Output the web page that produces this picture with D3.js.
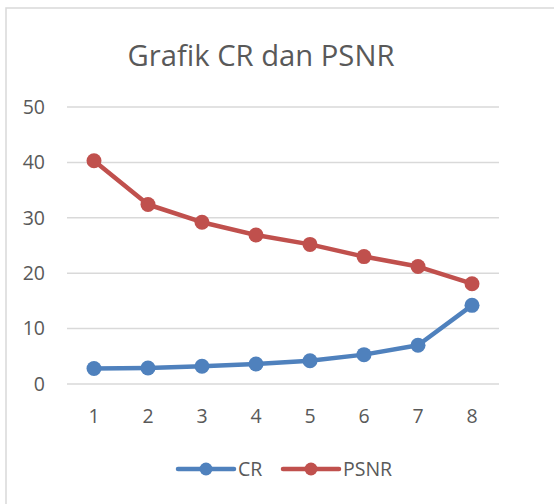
<!DOCTYPE html>
<html>
<head>
<meta charset="utf-8">
<script src="https://cdn.jsdelivr.net/npm/d3@7"></script>
<style>
  body { margin: 0; background: #fff; }
  svg { display: block; font-family: "Open Sans", "Noto Sans", sans-serif; }
</style>
</head>
<body>
<svg id="chart" width="554" height="504"></svg>
<script>
var categories = ["1", "2", "3", "4", "5", "6", "7", "8"];
var crValues = [2.8, 2.9, 3.2, 3.6, 4.2, 5.3, 7.0, 14.2];
var psnrValues = [40.3, 32.4, 29.2, 26.9, 25.2, 23.0, 21.2, 18.1];
var yTicks = [0, 10, 20, 30, 40, 50];
var seriesNames = ["CR", "PSNR"];

var colors = { CR: "#4f81bd", PSNR: "#c0504d" };
var textColor = "#595959";

var svg = d3.select("#chart");

// chart frame (only top/left visible in the crop)
svg.append("rect")
    .attr("x", 6).attr("y", 8)
    .attr("width", 600).attr("height", 600)
    .attr("fill", "#fff")
    .attr("stroke", "#d9d9d9")
    .attr("stroke-width", 1.5);

// title, sized to match the reference width
var title = svg.append("text")
    .attr("x", 261).attr("y", 66)
    .attr("text-anchor", "middle")
    .attr("fill", textColor)
    .attr("font-size", 30)
    .text("Grafik CR dan PSNR");
var tw = title.node().getComputedTextLength();
title.attr("font-size", 30 * 267 / tw);

var x = d3.scaleBand()
    .domain(categories)
    .range([67, 499]);

var y = d3.scaleLinear()
    .domain([0, 50])
    .range([384, 107]);

// gridlines
svg.append("g")
  .selectAll("line")
  .data(yTicks)
  .enter().append("line")
    .attr("x1", 67).attr("x2", 499)
    .attr("y1", function(d) { return y(d); })
    .attr("y2", function(d) { return y(d); })
    .attr("stroke", "#d9d9d9")
    .attr("stroke-width", 1.5);

// y axis labels
var yAxis = svg.append("g")
    .attr("transform", "translate(45,0)")
    .call(d3.axisLeft(y).tickValues(yTicks).tickSize(0).tickPadding(0));
yAxis.select(".domain").remove();
yAxis.selectAll("text")
    .attr("fill", textColor)
    .attr("font-size", 19.5)
    .attr("font-family", "Open Sans, Noto Sans, sans-serif");

// x axis labels
var xAxis = svg.append("g")
    .attr("transform", "translate(0,384)")
    .call(d3.axisBottom(x).tickSize(0).tickPadding(25));
xAxis.select(".domain").remove();
xAxis.selectAll("text")
    .attr("fill", textColor)
    .attr("font-size", 19.5)
    .attr("font-family", "Open Sans, Noto Sans, sans-serif");

var series = [
  { name: "CR", values: crValues },
  { name: "PSNR", values: psnrValues }
];

var line = d3.line()
    .x(function(d, i) { return x(categories[i]) + x.bandwidth() / 2; })
    .y(function(d) { return y(d); });

var sg = svg.append("g")
  .selectAll("g")
  .data(series)
  .enter().append("g");

sg.append("path")
    .attr("d", function(d) { return line(d.values); })
    .attr("fill", "none")
    .attr("stroke", function(d) { return colors[d.name]; })
    .attr("stroke-width", 4.5)
    .attr("stroke-linejoin", "round")
    .attr("stroke-linecap", "round");

sg.selectAll("circle")
  .data(function(d) { return d.values.map(function(v, i) { return { v: v, i: i, name: d.name }; }); })
  .enter().append("circle")
    .attr("cx", function(d) { return x(categories[d.i]) + x.bandwidth() / 2; })
    .attr("cy", function(d) { return y(d.v); })
    .attr("r", 7.5)
    .attr("fill", function(d) { return colors[d.name]; });

// legend
var legendX = [178, 283];
var legend = svg.append("g")
  .selectAll("g")
  .data(seriesNames)
  .enter().append("g")
    .attr("transform", function(d, i) { return "translate(" + legendX[i] + ",469)"; });

legend.append("line")
    .attr("x1", 0).attr("x2", 56)
    .attr("stroke", function(d) { return colors[d]; })
    .attr("stroke-width", 4.5)
    .attr("stroke-linecap", "round");

legend.append("circle")
    .attr("cx", 28)
    .attr("r", 6.5)
    .attr("fill", function(d) { return colors[d]; });

legend.append("text")
    .attr("x", 60)
    .attr("dy", "0.35em")
    .attr("fill", textColor)
    .attr("font-size", 19.5)
    .text(function(d) { return d; });
</script>
</body>
</html>
